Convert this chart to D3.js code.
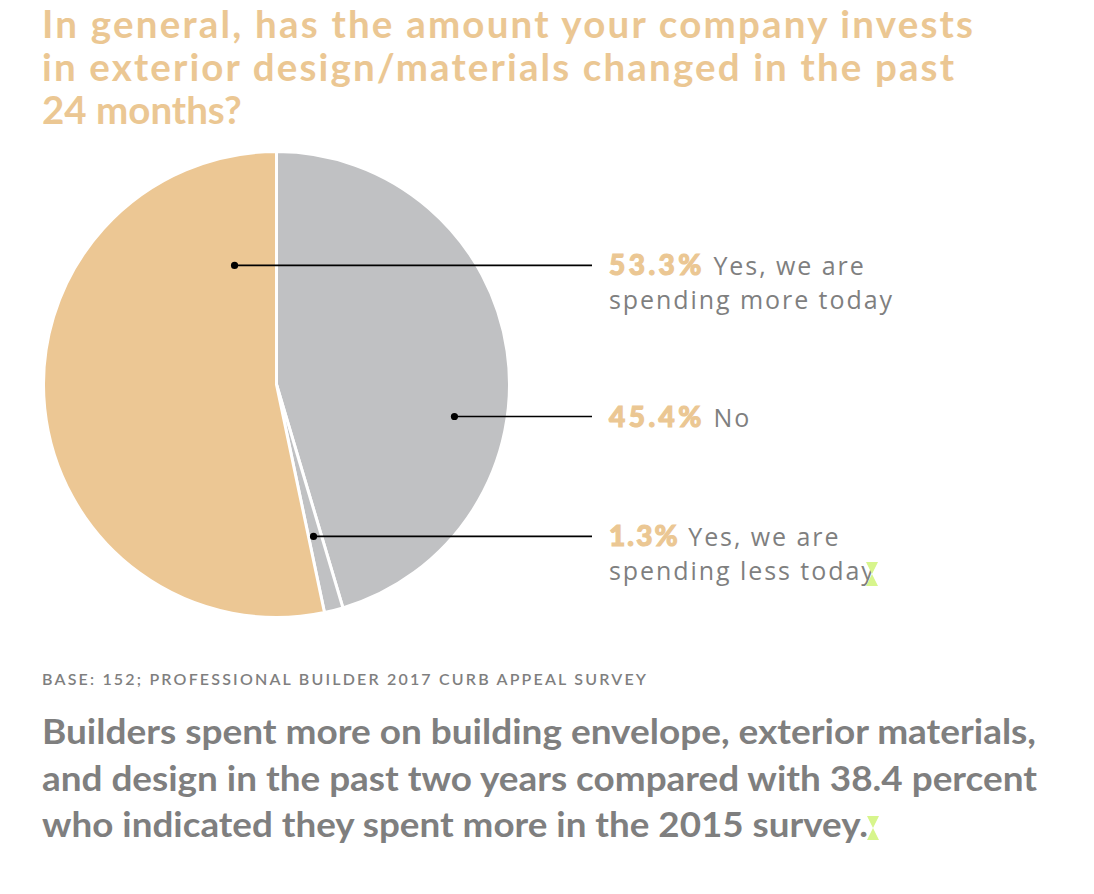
<!DOCTYPE html>
<html>
<head>
<meta charset="utf-8">
<script src="https://cdn.jsdelivr.net/npm/d3@7"></script>
<style>
  html, body { margin: 0; padding: 0; background: #ffffff; }
  svg { display: block; }
</style>
</head>
<body>
<svg id="chart" width="1094" height="894"></svg>
<script>
// ---------------- data ----------------
const categories = ["Yes, we are spending more today", "No", "Yes, we are spending less today"];
const values = [53.3, 45.4, 1.3];
const valueLabels = ["53.3%", "45.4%", "1.3%"];
const labelLines = [["Yes, we are", "spending more today"], ["No"], ["Yes, we are", "spending less today"]];
const sliceOrder = [1, 2, 0]; // clockwise from 12 o'clock
const titleLines = [
  "In general, has the amount your company invests",
  "in exterior design/materials changed in the past",
  "24 months?"
];
const sourceText = "BASE: 152; PROFESSIONAL BUILDER 2017 CURB APPEAL SURVEY";
const noteLines = [
  "Builders spent more on building envelope, exterior materials,",
  "and design in the past two years compared with 38.4 percent",
  "who indicated they spent more in the 2015 survey."
];

// ---------------- layout / style ----------------
const cx = 276.5, cy = 384.5, R = 233;
const colors = ["#ECC794", "#C0C1C3", "#C0C1C3"];
const accent = "#EBC793";
const grey = "#7F7F7F";
// anchor dot placement for each category (angle in degrees clockwise from 12, radius fraction)
const anchors = [[340.6, 0.542], [100.2, 0.776], [166.3, 0.671]];
const lineEndX = 592, labelX = 609;
const FONT = "Lato, 'Noto Sans', sans-serif";
const LABEL_FONT = "'Open Sans', 'Noto Sans', sans-serif";

const svg = d3.select("#chart");

// title
const title = svg.append("g").attr("font-family", FONT)
  .attr("font-weight", 700).attr("fill", accent).attr("font-size", 38.5);
const titleBaselines = [38, 81, 124];
const titleWidths = [931, 912, null];
title.selectAll("text").data(titleLines).join("text")
  .attr("x", 42).attr("y", (d, i) => titleBaselines[i])
  .text(d => d)
  .each(function(d, i) {
    if (titleWidths[i]) d3.select(this).attr("textLength", titleWidths[i]).attr("lengthAdjust", "spacing");
  });

// pie
const pieGen = d3.pie().sort(null).value(i => values[i]);
const arcs = pieGen(sliceOrder);
const arcGen = d3.arc().innerRadius(0).outerRadius(R);
const g = svg.append("g").attr("transform", `translate(${cx},${cy})`);
g.selectAll("path").data(arcs).join("path")
  .attr("d", arcGen)
  .attr("fill", d => colors[d.data])
  .attr("stroke", "#ffffff")
  .attr("stroke-width", 3)
  .attr("stroke-linejoin", "miter");

// leaders + labels
const labelSize = 25;
const secondLines = [];
categories.forEach((cat, i) => {
  const a = anchors[i][0] * Math.PI / 180;
  const r = anchors[i][1] * R;
  const px = cx + r * Math.sin(a);
  const py = cy - r * Math.cos(a);
  svg.append("line").attr("x1", px).attr("y1", py).attr("x2", lineEndX).attr("y2", py)
    .attr("stroke", "#000").attr("stroke-width", 1.6);
  svg.append("circle").attr("cx", px).attr("cy", py).attr("r", 3.6).attr("fill", "#000");

  const t = svg.append("text").attr("x", labelX).attr("y", py + 10)
    .attr("font-family", LABEL_FONT).attr("font-size", labelSize).attr("fill", grey)
    .attr("class", "lab");
  t.append("tspan").attr("font-family", FONT).attr("font-weight", 900)
    .attr("font-size", 28).attr("fill", accent)
    .attr("stroke", accent).attr("stroke-width", 1.1)
    .attr("class", "pct").text(valueLabels[i]);
  t.append("tspan").attr("class", "rest").text(" " + labelLines[i][0]);
  if (labelLines[i][1]) {
    const s = svg.append("text").attr("x", labelX).attr("y", py + 44)
      .attr("font-family", LABEL_FONT).attr("font-size", labelSize).attr("fill", grey)
      .text(labelLines[i][1]);
    secondLines.push(s);
  }
});
// fit label lettering to the reference line width
const nat = secondLines[0].node().getComputedTextLength();
const ls = (283 - nat) / (labelLines[0][1].length - 1);
secondLines.forEach(s => s.attr("letter-spacing", ls));
svg.selectAll("text.lab tspan.rest").attr("letter-spacing", ls);
// percent figures: fit to reference width (53.3% ≈ 96px)
svg.selectAll("tspan.pct").each(function() {
  const n = this.getComputedTextLength();
  const chars = this.textContent.length;
  const target = 96 * chars / 5 + (chars < 5 ? -6 : 0);
  d3.select(this).attr("letter-spacing", Math.max(0, (target - n) / chars));
});

// source
svg.append("text").attr("x", 42).attr("y", 685)
  .attr("font-family", FONT).attr("font-weight", 600)
  .attr("font-size", 16).attr("fill", grey)
  .attr("textLength", 604).attr("lengthAdjust", "spacing")
  .text(sourceText);

// note paragraph
const noteBaselines = [744, 791, 837];
const noteWidths = [994, 995, 826];
svg.append("g").selectAll("text").data(noteLines).join("text")
  .attr("x", 42).attr("y", (d, i) => noteBaselines[i])
  .attr("font-family", FONT).attr("font-weight", 700)
  .attr("font-size", 35).attr("fill", grey)
  .attr("textLength", (d, i) => noteWidths[i]).attr("lengthAdjust", "spacingAndGlyphs")
  .text(d => d);

// small green marker glyphs present in the original
const markers = [[872, 574], [873, 828]];
svg.append("g").selectAll("path").data(markers).join("path")
  .attr("d", d => `M${d[0]-6},${d[1]-12}L${d[0]+6},${d[1]-12}L${d[0]},${d[1]}L${d[0]+6},${d[1]+12}L${d[0]-6},${d[1]+12}L${d[0]},${d[1]}Z`)
  .attr("fill", "#D7F58C");
</script>
</body>
</html>
